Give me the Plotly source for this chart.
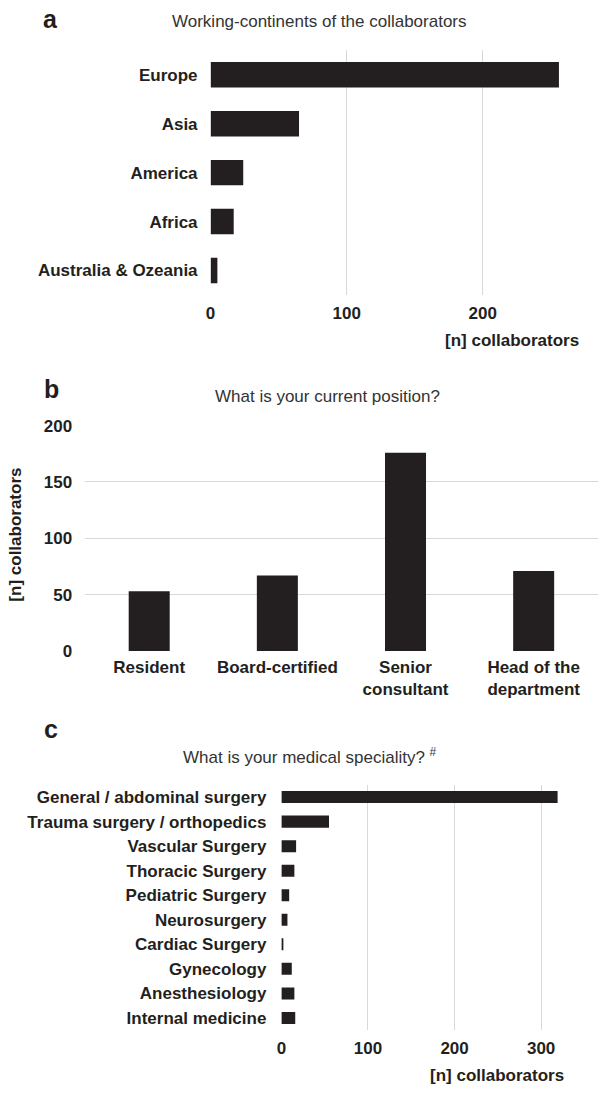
import plotly.graph_objects as go

W, H = 602, 1097

# panel a - working continents
continents = ["Europe", "Asia", "America", "Africa", "Australia & Ozeania"]
continent_n = [256, 65, 24, 17, 5]

# panel b - current position
positions = ["Resident", "Board-certified", "Senior<br>consultant", "Head of the<br>department"]
position_n = [53, 67, 176, 71]

# panel c - medical speciality
specialities = [
    "General / abdominal surgery",
    "Trauma surgery / orthopedics",
    "Vascular Surgery",
    "Thoracic Surgery",
    "Pediatric Surgery",
    "Neurosurgery",
    "Cardiac Surgery",
    "Gynecology",
    "Anesthesiology",
    "Internal medicine",
]
speciality_n = [319, 55, 17, 15, 9, 7, 2, 12, 15, 16]

BAR = "#231f20"
GRID = "#d9d9d9"
FONT = "Liberation Sans, Arial, sans-serif"


def px_x(x):
    return x / W


def px_y(y):
    return 1 - y / H


fig = go.Figure()

fig.add_trace(go.Bar(x=continent_n, y=continents, orientation="h", marker_color=BAR,
                     marker_line_width=0, width=0.52, xaxis="x", yaxis="y"))
fig.add_trace(go.Bar(x=positions, y=position_n, marker_color=BAR,
                     marker_line_width=0, width=0.32, xaxis="x2", yaxis="y2"))
fig.add_trace(go.Bar(x=speciality_n, y=specialities, orientation="h", marker_color=BAR,
                     marker_line_width=0, width=0.49, xaxis="x3", yaxis="y3"))

tick_font = dict(family=FONT, size=17, color=BAR, weight="bold")

layout_axes = dict(
    xaxis=dict(domain=[px_x(207.3), px_x(581.9)], range=[0, 273], tickvals=[0, 100, 200],
               showgrid=True, gridcolor=GRID, zeroline=False, anchor="y",
               tickfont=tick_font, ticklabelstandoff=6),
    yaxis=dict(domain=[px_y(291), px_y(42)], autorange="reversed", anchor="x",
               showgrid=False, tickfont=tick_font, ticklabelstandoff=12),
    xaxis2=dict(domain=[px_x(80.8), px_x(597.7)], anchor="y2", showgrid=False,
                tickfont=tick_font, ticklabelstandoff=4),
    yaxis2=dict(domain=[px_y(653.3), px_y(424)], range=[0, 200], tickvals=[0, 50, 100, 150, 200],
                anchor="x2", showgrid=True, gridcolor=GRID, zeroline=False,
                tickfont=tick_font, ticklabelstandoff=12),
    xaxis3=dict(domain=[px_x(278.7), px_x(571.2)], range=[0, 335], tickvals=[0, 100, 200, 300],
                anchor="y3", showgrid=True, gridcolor=GRID, zeroline=False,
                tickfont=tick_font, ticklabelstandoff=6),
    yaxis3=dict(domain=[px_y(1039.2), px_y(789.5)], autorange="reversed", anchor="x3",
                showgrid=False, tickfont=tick_font, ticklabelstandoff=14),
)
fig.update_layout(**layout_axes)


def note(text, x, y, size=17, bold=False, xanchor="left", color=BAR, angle=0):
    fig.add_annotation(text=text, x=px_x(x), y=px_y(y), xref="paper", yref="paper",
                       xanchor=xanchor, yanchor="middle", showarrow=False, textangle=angle,
                       font=dict(family=FONT, size=size, color=color,
                                 weight="bold" if bold else "normal"))


# panel letters
note("a", 36, 10, size=25, bold=True)
note("b", 37, 387, size=25, bold=True)
note("c", 37, 733, size=25, bold=True)

# panel titles
note("Working-continents of the collaborators", 166, 13, color="#333333")
note("What is your current position?", 210, 394, color="#333333")
note("What is your medical speciality? <sup>#</sup>", 177, 760, color="#333333")

# axis titles
note("[n] collaborators", 581, 337, bold=True, xanchor="right")
note("[n] collaborators", 566, 1085, bold=True, xanchor="right")
note("[n] collaborators", 11, 535, bold=True, xanchor="center", angle=-90)

fig.update_layout(
    width=W, height=H,
    margin=dict(l=0, r=0, t=0, b=0),
    paper_bgcolor="white", plot_bgcolor="white",
    showlegend=False,
    hovermode=False,
    font=dict(family=FONT, color=BAR),
)

# page has default body margin; drop it so the figure sits at 0,0
fig.write_html("out.html", config={"displayModeBar": False},
               post_script="document.body.style.margin='0';")
